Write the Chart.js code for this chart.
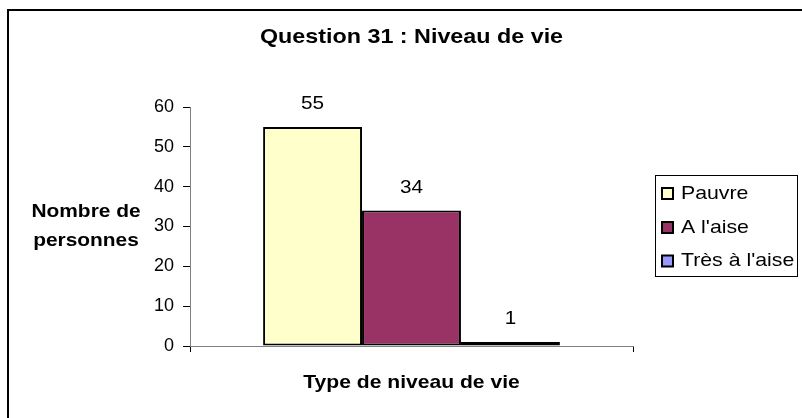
<!DOCTYPE html>
<html>
<head>
<meta charset="utf-8">
<script src="https://cdn.jsdelivr.net/npm/chart.js@4"></script>
<style>
html,body{margin:0;padding:0;background:#fff;}
#c{display:block;}
</style>
</head>
<body>
<canvas id="c" width="802" height="418"></canvas>
<script>
// ---- data ----
const categories = ['Type de niveau de vie'];
const seriesNames = ['Pauvre', "A l'aise", "Très à l'aise"];
const seriesValues = [55, 34, 1];
const seriesColors = ['#FFFFCC', '#993366', '#9999FF'];
const yTickValues = [0, 10, 20, 30, 40, 50, 60];
const chartTitle = 'Question 31 : Niveau de vie';
const yTitleLines = ['Nombre de', 'personnes'];
const xTitle = 'Type de niveau de vie';

const FONT = '"Liberation Sans", Arial, sans-serif';

function sText(ctx, txt, x, y, font, align, sx) {
  ctx.save();
  ctx.font = font;
  ctx.fillStyle = '#000';
  ctx.textBaseline = 'middle';
  ctx.textAlign = align;
  ctx.translate(x, y);
  ctx.scale(sx, 1);
  ctx.fillText(txt, 0, 0);
  ctx.restore();
}

const decor = {
  id: 'decor',
  beforeDraw(chart) {
    const ctx = chart.ctx;
    ctx.save();
    ctx.fillStyle = '#fff';
    ctx.fillRect(0, 0, chart.width, chart.height);
    ctx.restore();
  },
  afterDatasetsDraw(chart) {
    const ctx = chart.ctx;
    chart.data.datasets.forEach((ds, i) => {
      const meta = chart.getDatasetMeta(i);
      meta.data.forEach((el, j) => {
        sText(ctx, String(ds.data[j]), el.x, el.y - 23, '18px ' + FONT, 'center', 1.15);
      });
    });
  },
  afterDraw(chart) {
    const ctx = chart.ctx;
    const ca = chart.chartArea;
    // outer frame
    ctx.save();
    ctx.strokeStyle = '#000';
    ctx.lineWidth = 2;
    ctx.beginPath();
    ctx.moveTo(8, 430);
    ctx.lineTo(8, 10);
    ctx.lineTo(820, 10);
    ctx.stroke();
    ctx.restore();
    // title
    const cx = (ca.left + ca.right) / 2;
    sText(ctx, chartTitle, cx, 37, 'bold 21px ' + FONT, 'center', 1.11);
    // y title
    sText(ctx, yTitleLines[0], 86, 212, 'bold 18.5px ' + FONT, 'center', 1.13);
    sText(ctx, yTitleLines[1], 86, 241, 'bold 18.5px ' + FONT, 'center', 1.13);
    // x title
    sText(ctx, xTitle, cx, 383, 'bold 18.5px ' + FONT, 'center', 1.14);
    // legend
    ctx.save();
    ctx.strokeStyle = '#000';
    ctx.lineWidth = 1;
    ctx.strokeRect(655.5, 175.5, 142, 101);
    const rows = [193.5, 227.5, 261];
    chart.data.datasets.forEach((ds, i) => {
      const y = rows[i];
      ctx.fillStyle = ds.backgroundColor;
      ctx.fillRect(662, y - 5.5, 11, 11);
      ctx.lineWidth = 2;
      ctx.strokeStyle = '#000';
      ctx.strokeRect(662, y - 5.5, 11, 11);
      sText(ctx, ds.label, 681, y, '18.5px ' + FONT, 'left', 1.15);
    });
    ctx.restore();
  }
};

new Chart(document.getElementById('c'), {
  type: 'bar',
  data: {
    labels: categories,
    datasets: seriesNames.map((n, i) => ({
      label: n,
      data: [seriesValues[i]],
      backgroundColor: seriesColors[i],
      borderColor: '#000',
      borderWidth: 2,
      borderSkipped: false,
      categoryPercentage: 0.67,
      barPercentage: 1.0
    }))
  },
  options: {
    responsive: false,
    devicePixelRatio: 1,
    animation: false,
    layout: { padding: { left: 130, right: 169, top: 107, bottom: 0 } },
    plugins: {
      legend: { display: false },
      title: { display: false },
      tooltip: { enabled: false }
    },
    scales: {
      x: {
        type: 'category',
        offset: true,
        grid: { offset: true, drawOnChartArea: false, drawTicks: true, tickLength: 6, tickColor: '#000', tickWidth: 1 },
        border: { color: '#808080', width: 1 },
        ticks: { display: false },
        afterFit(s) { s.height = 72; }
      },
      y: {
        min: 0,
        max: 60,
        afterBuildTicks(s) { s.ticks = yTickValues.map(v => ({ value: v })); },
        ticks: { color: '#000', font: { family: FONT, size: 18 }, padding: 9 },
        grid: { drawOnChartArea: false, drawTicks: true, tickLength: 7, tickColor: '#000', tickWidth: 1 },
        border: { color: '#808080', width: 1 },
        afterFit(s) { s.width = 60; }
      }
    }
  },
  plugins: [decor]
});
</script>
</body>
</html>
